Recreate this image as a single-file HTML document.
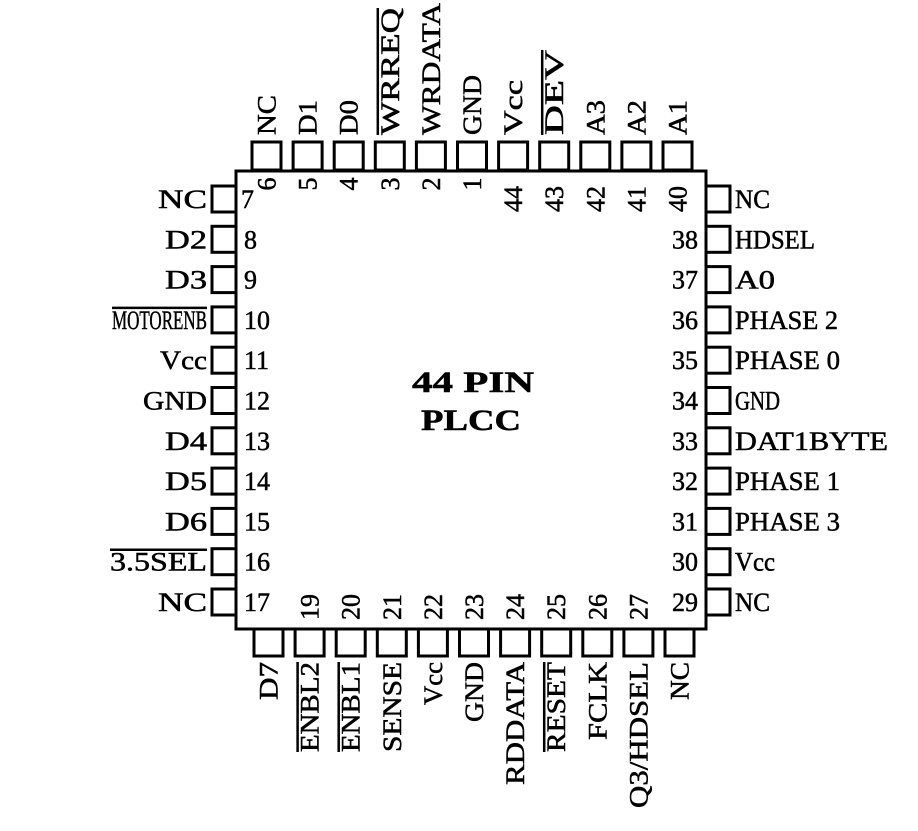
<!DOCTYPE html>
<html><head><meta charset="utf-8"><style>
html,body{margin:0;padding:0;background:#fff;}
svg text{font-family:"Liberation Serif","Times New Roman",Times,serif;font-size:26px;fill:#000;stroke:#000;stroke-width:0.5px;}
</style></head><body>
<svg id="sv" width="918" height="826" viewBox="0 0 918 826" xmlns="http://www.w3.org/2000/svg">
<g fill="none" stroke="#000" stroke-width="3">
<rect x="236" y="171" width="470" height="458"/>
</g>
<g id="pads" fill="#fff" stroke="#000" stroke-width="3"></g>
<g id="ovl" stroke="#000" stroke-width="2.5"></g>
<g id="txt"></g>
<text x="473" y="392" text-anchor="middle" style="font-size:30px;font-weight:bold" textLength="122" lengthAdjust="spacingAndGlyphs">44  PIN</text>
<text x="471" y="430" text-anchor="middle" style="font-size:30px;font-weight:bold" textLength="100" lengthAdjust="spacingAndGlyphs">PLCC</text>
</svg>
<script>
(function(){
var pads=document.getElementById('pads'),txt=document.getElementById('txt'),ovl=document.getElementById('ovl');
var NS='http://www.w3.org/2000/svg';
function rect(x,y,w,h){var r=document.createElementNS(NS,'rect');r.setAttribute('x',x);r.setAttribute('y',y);r.setAttribute('width',w);r.setAttribute('height',h);pads.appendChild(r);}
function line(x1,y1,x2,y2){var l=document.createElementNS(NS,'line');l.setAttribute('x1',x1);l.setAttribute('y1',y1);l.setAttribute('x2',x2);l.setAttribute('y2',y2);ovl.appendChild(l);}
function t(s,x,y,anchor,rot,len){var e=document.createElementNS(NS,'text');e.textContent=s;e.setAttribute('x',x);e.setAttribute('y',y);e.setAttribute('text-anchor',anchor);if(rot)e.setAttribute('transform','rotate(-90 '+x+' '+y+')');if(len){e.setAttribute('textLength',len);e.setAttribute('lengthAdjust','spacingAndGlyphs');}txt.appendChild(e);}
var topPins=[['NC','6',95],['D1','5',100],['D0','4',100],['WRREQ','3',8,1],['WRDATA','2',3],['GND','1',75],['Vcc','44',80],['DEV','43',50,1],['A3','42',100],['A2','41',100],['A1','40',100]];
topPins.forEach(function(p,i){var cx=266.5+41.1*i;rect(cx-14.5,142,29,28);
t(p[0],cx+9,135,'start',1,135-p[2]);
if(p[3])line(cx-12,135,cx-12,p[2]);
t(p[1],cx+9,p[1].length>1?199:184,'middle',1);});
var botPins=[['D7','',700],['ENBL2','19',752,1],['ENBL1','20',752,1],['SENSE','21',752],['Vcc','22',705],['GND','23',722],['RDDATA','24',785],['RESET','25',752,1],['FCLK','26',740],['Q3/HDSEL','27',808],['NC','',700]];
botPins.forEach(function(p,i){var cx=268.5+41.1*i;rect(cx-14.5,629,29,27);
t(p[0],cx+9,p[2],'start',1,p[2]-662);
if(p[3])line(cx-12,662,cx-12,p[2]);
if(p[1])t(p[1],cx+9,607,'middle',1);});
var leftPins=[['NC','7',158],['D2','8',165],['D3','9',165],['MOTORENB','10',112,1],['Vcc','11',160],['GND','12',143],['D4','13',165],['D5','14',165],['D6','15',165],['3.5SEL','16',110,1],['NC','17',158]];
leftPins.forEach(function(p,i){var cy=199+40.3*i;rect(212,cy-13,24,26);
t(p[0],p[2],cy+9,'start',0,207-p[2]);
if(p[3])line(p[2],cy-12,207,cy-12);
t(p[1],p[1]=='7'?241:244,cy+9,'start',0);});
var rightPins=[['NC','',770],['HDSEL','38',815],['A0','37',775],['PHASE 2','36',838],['PHASE 0','35',840],['GND','34',780],['DAT1BYTE','33',888],['PHASE 1','32',840],['PHASE 3','31',840],['Vcc','30',775],['NC','29',770]];
rightPins.forEach(function(p,i){var cy=199+40.3*i;rect(706,cy-13,24,26);
t(p[0],735,cy+9,'start',0,p[2]-735);
if(p[1])t(p[1],698,cy+9,'end',0);});
})();
</script>
</body></html>
